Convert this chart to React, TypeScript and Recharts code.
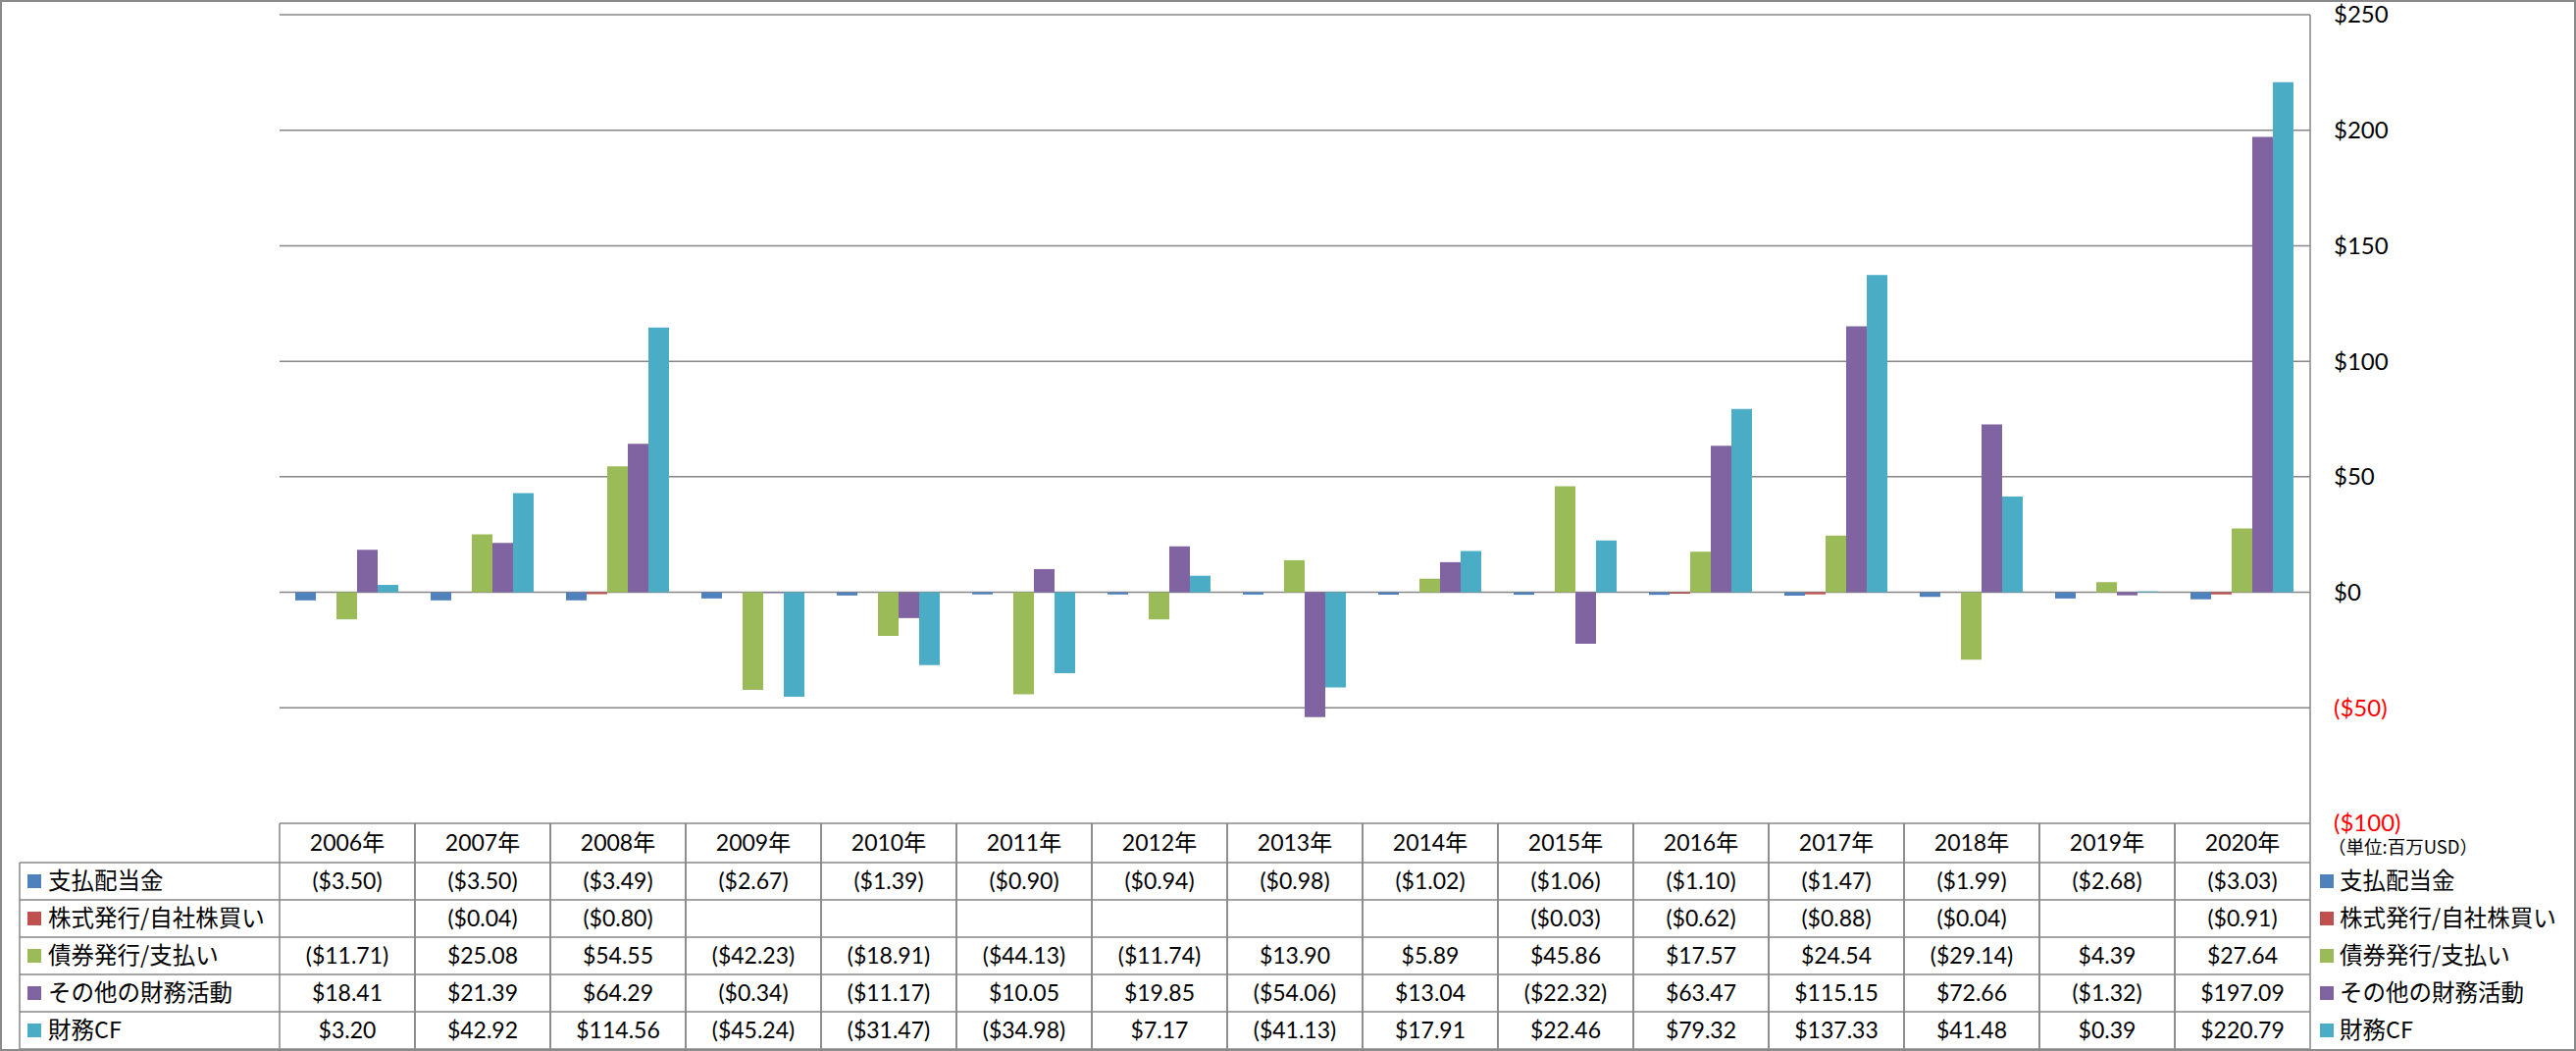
import React from 'react';
import { BarChart, Bar, XAxis, YAxis, CartesianGrid, Legend } from 'recharts';

// ---------- data ----------
const YEARS = ['2006年', '2007年', '2008年', '2009年', '2010年', '2011年', '2012年', '2013年', '2014年', '2015年', '2016年', '2017年', '2018年', '2019年', '2020年'];
const DIVIDENDS = [-3.5, -3.5, -3.49, -2.67, -1.39, -0.9, -0.94, -0.98, -1.02, -1.06, -1.1, -1.47, -1.99, -2.68, -3.03];
const STOCK = [null, -0.04, -0.8, null, null, null, null, null, null, -0.03, -0.62, -0.88, -0.04, null, -0.91];
const DEBT = [-11.71, 25.08, 54.55, -42.23, -18.91, -44.13, -11.74, 13.9, 5.89, 45.86, 17.57, 24.54, -29.14, 4.39, 27.64];
const OTHER = [18.41, 21.39, 64.29, -0.34, -11.17, 10.05, 19.85, -54.06, 13.04, -22.32, 63.47, 115.15, 72.66, -1.32, 197.09];
const FIN_CF = [3.2, 42.92, 114.56, -45.24, -31.47, -34.98, 7.17, -41.13, 17.91, 22.46, 79.32, 137.33, 41.48, 0.39, 220.79];
const Y_TICKS = [-100, -50, 0, 50, 100, 150, 200, 250];
const SERIES_NAMES = ['支払配当金', '株式発行/自社株買い', '債券発行/支払い', 'その他の財務活動', '財務CF'];
const UNIT_LABEL = '（単位:百万USD）';

// ---------- styling ----------
const KEYS = ['dividends', 'stock', 'debt', 'other', 'cf'];
const COLORS = ['#4F81BD', '#C0504D', '#9BBB59', '#8064A2', '#4BACC6'];
const SERIES_VALUES = [DIVIDENDS, STOCK, DEBT, OTHER, FIN_CF];

const data = YEARS.map((year, i) => {
  const row: any = { year };
  KEYS.forEach((k, s) => {
    row[k] = SERIES_VALUES[s][i];
  });
  return row;
});

const W = 2626;
const H = 1071;
const M_LEFT = 285;
const M_TOP = 15;
const Y_AXIS_W = 271;
const X_AXIS_H = 232;
const HEADER_H = 40;
const ROW_H = 38;
const LEGEND_COL_W = 265;
const GRID = '#878787';
const NUM_FONT = "Lato, 'Noto Sans CJK JP', sans-serif";
const JP_FONT = "'Noto Sans CJK JP', sans-serif";

const fmt = (v: number | null) =>
  v == null ? '' : v < 0 ? `($${Math.abs(v).toFixed(2)})` : `$${v.toFixed(2)}`;

const YTick = (props: any) => {
  const { x, y, payload } = props;
  const v = payload.value;
  const label = v < 0 ? `($${Math.abs(v)})` : `$${v}`;
  return (
    <text x={x} y={y} dy="0.35em" textAnchor="start" fill={v < 0 ? '#FF0000' : '#000000'} fontSize={24} fontFamily={NUM_FONT}>
      {label}
    </text>
  );
};

const TableTick = (props: any) => {
  const { x, y, payload, index, visibleTicksCount, width } = props;
  const colW = payload && payload.offset ? payload.offset * 2 : width / visibleTicksCount;
  const left = x - colW / 2;
  const right = x + colW / 2;
  const i = payload && payload.index != null ? payload.index : index;
  const rowsTop = y + HEADER_H;
  const bottom = rowsTop + SERIES_NAMES.length * ROW_H;
  const lines: any[] = [];
  lines.push(<line key="vl" x1={left} y1={y} x2={left} y2={bottom} stroke={GRID} strokeWidth={1.5} />);
  lines.push(<line key="vr" x1={right} y1={y} x2={right} y2={bottom} stroke={GRID} strokeWidth={1.5} />);
  for (let k = 0; k <= SERIES_NAMES.length; k++) {
    const yy = rowsTop + k * ROW_H;
    lines.push(<line key={'h' + k} x1={left} y1={yy} x2={right} y2={yy} stroke={GRID} strokeWidth={1.5} />);
  }
  const legendCol: any[] = [];
  if (i === 0) {
    const lx = left - LEGEND_COL_W;
    legendCol.push(<line key="lvl" x1={lx} y1={rowsTop} x2={lx} y2={bottom} stroke={GRID} strokeWidth={1.5} />);
    for (let k = 0; k <= SERIES_NAMES.length; k++) {
      const yy = rowsTop + k * ROW_H;
      legendCol.push(<line key={'lh' + k} x1={lx} y1={yy} x2={left} y2={yy} stroke={GRID} strokeWidth={1.5} />);
    }
    SERIES_NAMES.forEach((name, s) => {
      const cy = rowsTop + s * ROW_H + ROW_H / 2;
      legendCol.push(<rect key={'ls' + s} x={lx + 8} y={cy - 7} width={14} height={14} fill={COLORS[s]} />);
      legendCol.push(
        <text key={'lt' + s} x={lx + 29} y={cy} dy="0.36em" fontSize={23.5} fontFamily={JP_FONT} fill="#000">
          {name}
        </text>
      );
    });
  }
  return (
    <g>
      {lines}
      {legendCol}
      <text x={x} y={y + HEADER_H / 2} dy="0.36em" textAnchor="middle" fontSize={23} fontFamily={NUM_FONT} fill="#000">
        {payload.value}
      </text>
      {SERIES_VALUES.map((vals, s) => (
        <text key={'v' + s} x={x} y={rowsTop + s * ROW_H + ROW_H / 2} dy="0.36em" textAnchor="middle" fontSize={23} fontFamily={NUM_FONT} fill="#000">
          {fmt(vals[i])}
        </text>
      ))}
    </g>
  );
};

const RightLegend = () => (
  <svg width={Y_AXIS_W} height={X_AXIS_H} style={{ display: 'block' }}>
    <text x={18} y={HEADER_H / 2 + 4} dy="0.36em" fontSize={18.5} fontFamily={JP_FONT} fill="#000">
      {UNIT_LABEL}
    </text>
    {SERIES_NAMES.map((name, s) => {
      const cy = HEADER_H + s * ROW_H + ROW_H / 2;
      return (
        <g key={s}>
          <rect x={10} y={cy - 7} width={14} height={14} fill={COLORS[s]} />
          <text x={30} y={cy} dy="0.36em" fontSize={23.5} fontFamily={JP_FONT} fill="#000">
            {name}
          </text>
        </g>
      );
    })}
  </svg>
);

export default function App() {
  return (
    <div style={{ position: 'absolute', left: 0, top: 0, width: W, height: H, background: '#fff' }}>
      <BarChart
        width={W}
        height={H}
        data={data}
        margin={{ top: M_TOP, right: 0, left: M_LEFT, bottom: 0 }}
        barCategoryGap={16}
        barGap={0}
      >
        <CartesianGrid vertical={false} stroke={GRID} strokeWidth={1.5} />
        <XAxis
          dataKey="year"
          height={X_AXIS_H}
          axisLine={false}
          tickLine={false}
          tickSize={0}
          tickMargin={0}
          interval={0}
          tick={(p: any) => <TableTick {...p} />}
        />
        <YAxis
          orientation="right"
          width={Y_AXIS_W}
          domain={[-100, 250]}
          ticks={Y_TICKS}
          interval={0}
          axisLine={{ stroke: GRID, strokeWidth: 1.5 }}
          tickLine={false}
          tickSize={0}
          tickMargin={24}
          tick={(p: any) => <YTick {...p} />}
        />
        <Legend
          layout="vertical"
          align="center"
          verticalAlign="middle"
          wrapperStyle={{ left: W - Y_AXIS_W, top: H - X_AXIS_H, width: Y_AXIS_W, height: X_AXIS_H }}
          content={() => <RightLegend />}
        />
        {KEYS.map((k, s) => (
          <Bar key={k} dataKey={k} name={SERIES_NAMES[s]} fill={COLORS[s]} isAnimationActive={false} />
        ))}
      </BarChart>
      <div
        style={{
          position: 'absolute',
          left: 0,
          top: 0,
          width: W,
          height: H,
          boxSizing: 'border-box',
          border: '2px solid #8a8a8a',
          pointerEvents: 'none',
        }}
      />
    </div>
  );
}
